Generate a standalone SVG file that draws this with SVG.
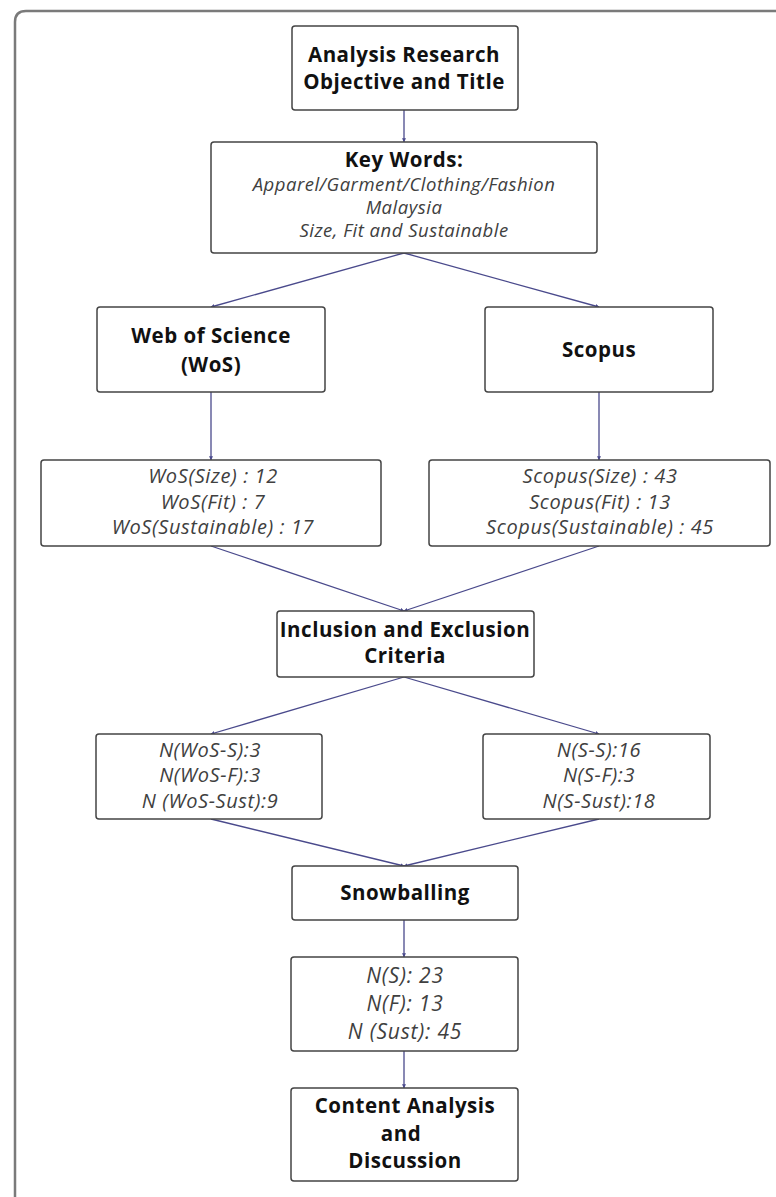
<svg xmlns="http://www.w3.org/2000/svg" width="776" height="1197" viewBox="0 0 776 1197">
<defs>
<marker id="ah" viewBox="0 0 6 6" refX="5.5" refY="3" markerWidth="4" markerHeight="4" orient="auto" markerUnits="userSpaceOnUse">
<path d="M0,0 L6,3 L0,6 z" fill="#4a4a8c"/>
</marker>
<style>
.box{fill:#fff;stroke:#444;stroke-width:1.5}
.frame{fill:none;stroke:#7a7a7a;stroke-width:2.5}
.b{font-family:"Open Sans","Noto Sans","Liberation Sans",sans-serif;font-weight:700;font-size:20.5px;letter-spacing:0.5px;fill:#111;text-anchor:middle}
.i{font-family:"Open Sans","Noto Sans","Liberation Sans",sans-serif;font-style:italic;font-weight:400;font-size:18.5px;letter-spacing:0.5px;fill:#404040;text-anchor:middle}
.i2{font-size:20px;letter-spacing:0.6px}
.i3{font-size:21px;letter-spacing:0.8px}
.c{fill:none;stroke:#4a4a8c;stroke-width:1.3}
</style>
</defs>
<rect width="776" height="1197" fill="#fff"/>
<path class="frame" d="M15,1197 V22 Q15,11 26,11 H776"/>
<g id="connectors">
<line class="c" x1="404" y1="110" x2="404" y2="142" marker-end="url(#ah)"/>
<line class="c" x1="404" y1="253" x2="211" y2="307" marker-end="url(#ah)"/>
<line class="c" x1="404" y1="253" x2="599" y2="307" marker-end="url(#ah)"/>
<line class="c" x1="211" y1="392" x2="211" y2="460" marker-end="url(#ah)"/>
<line class="c" x1="599" y1="392" x2="599" y2="460" marker-end="url(#ah)"/>
<line class="c" x1="211" y1="546" x2="404" y2="611" marker-end="url(#ah)"/>
<line class="c" x1="599" y1="546" x2="404" y2="611" marker-end="url(#ah)"/>
<line class="c" x1="404" y1="677" x2="211" y2="734" marker-end="url(#ah)"/>
<line class="c" x1="404" y1="677" x2="599" y2="734" marker-end="url(#ah)"/>
<line class="c" x1="211" y1="819" x2="404" y2="866" marker-end="url(#ah)"/>
<line class="c" x1="599" y1="819" x2="404" y2="866" marker-end="url(#ah)"/>
<line class="c" x1="404" y1="920" x2="404" y2="957" marker-end="url(#ah)"/>
<line class="c" x1="404" y1="1051" x2="404" y2="1088" marker-end="url(#ah)"/>
</g>
<g id="n-objective">
<rect class="box" x="292" y="26" width="226" height="84" rx="3"/>
<text class="b" x="404" y="62">Analysis Research</text>
<text class="b" x="404" y="89">Objective and Title</text>
</g>
<g id="n-keywords">
<rect class="box" x="211" y="142" width="386" height="111" rx="3"/>
<text class="b" x="404" y="167">Key Words:</text>
<text class="i" x="404" y="191">Apparel/Garment/Clothing/Fashion</text>
<text class="i" x="404" y="214">Malaysia</text>
<text class="i" x="404" y="237">Size, Fit and Sustainable</text>
</g>
<g id="n-wos">
<rect class="box" x="97" y="307" width="228" height="85" rx="3"/>
<text class="b" x="211" y="343">Web of Science</text>
<text class="b" x="211" y="372">(WoS)</text>
</g>
<g id="n-scopus">
<rect class="box" x="485" y="307" width="228" height="85" rx="3"/>
<text class="b" x="599" y="357">Scopus</text>
</g>
<g id="n-wos-counts">
<rect class="box" x="41" y="460" width="340" height="86" rx="3"/>
<text class="i i2" x="213" y="483">WoS(Size) : 12</text>
<text class="i i2" x="213" y="509">WoS(Fit) : 7</text>
<text class="i i2" x="213" y="534">WoS(Sustainable) : 17</text>
</g>
<g id="n-scopus-counts">
<rect class="box" x="429" y="460" width="341" height="86" rx="3"/>
<text class="i i2" x="600" y="483">Scopus(Size) : 43</text>
<text class="i i2" x="600" y="509">Scopus(Fit) : 13</text>
<text class="i i2" x="600" y="534">Scopus(Sustainable) : 45</text>
</g>
<g id="n-criteria">
<rect class="box" x="277" y="611" width="257" height="66" rx="3"/>
<text class="b" x="405" y="637">Inclusion and Exclusion</text>
<text class="b" x="405" y="663">Criteria</text>
</g>
<g id="n-wos-n">
<rect class="box" x="96" y="734" width="226" height="85" rx="3"/>
<text class="i i2" x="210" y="757">N(WoS-S):3</text>
<text class="i i2" x="210" y="782">N(WoS-F):3</text>
<text class="i i2" x="210" y="808">N (WoS-Sust):9</text>
</g>
<g id="n-s-n">
<rect class="box" x="483" y="734" width="227" height="85" rx="3"/>
<text class="i i2" x="599" y="757">N(S-S):16</text>
<text class="i i2" x="599" y="782">N(S-F):3</text>
<text class="i i2" x="599" y="808">N(S-Sust):18</text>
</g>
<g id="n-snowballing">
<rect class="box" x="292" y="866" width="226" height="54" rx="3"/>
<text class="b" x="405" y="900">Snowballing</text>
</g>
<g id="n-totals">
<rect class="box" x="291" y="957" width="227" height="94" rx="3"/>
<text class="i i3" x="405" y="983">N(S): 23</text>
<text class="i i3" x="405" y="1011">N(F): 13</text>
<text class="i i3" x="405" y="1039">N (Sust): 45</text>
</g>
<g id="n-content">
<rect class="box" x="291" y="1088" width="227" height="93" rx="3"/>
<text class="b" x="405" y="1113">Content Analysis</text>
<text class="b" x="401" y="1141">and</text>
<text class="b" x="405" y="1168">Discussion</text>
</g>
</svg>
